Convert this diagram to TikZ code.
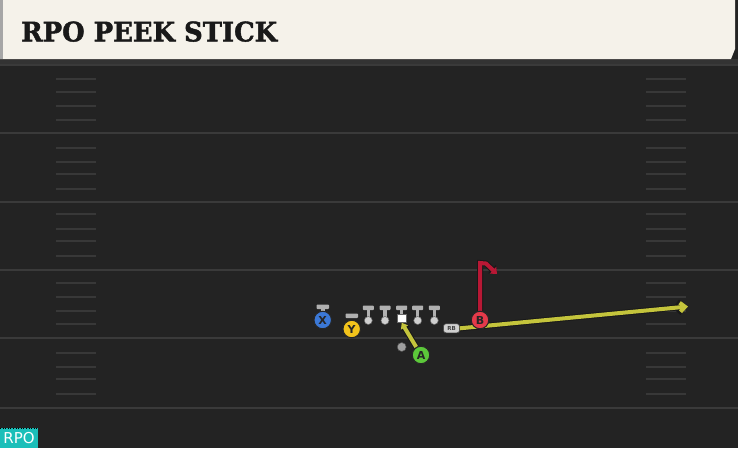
\documentclass[tikz,border=0pt]{standalone}
\usepackage{fontspec}
\usetikzlibrary{arrows.meta}
\newfontfamily\titlefont[BoldFeatures={FakeBold=1.6}]{DejaVu Serif}
\newfontfamily\labfont{DejaVu Sans}
\definecolor{bgc}{HTML}{232323}
\definecolor{cream}{HTML}{F5F2EA}
\definecolor{fline}{HTML}{3A3A3A}
\definecolor{hashc}{HTML}{383838}
\definecolor{xblue}{HTML}{3B78D6}
\definecolor{yyel}{HTML}{F2C31B}
\definecolor{agreen}{HTML}{5CC83A}
\definecolor{bred}{HTML}{E53A4A}
\definecolor{olive}{HTML}{C4C43C}
\definecolor{crim}{HTML}{B81835}
\definecolor{lgray}{HTML}{CFCFCF}
\definecolor{teal}{HTML}{1BBFB9}
\tikzset{
  player/.style={circle,draw=black!85,line width=1pt,minimum size=17.5pt,inner sep=0pt,
    font=\labfont\bfseries\fontsize{11}{11}\selectfont,text=black!85},
  fieldline/.style={draw=fline,line width=1.8pt},
  hash/.style={draw=hashc,line width=1.4pt},
  stance/.style={draw=none,fill=lgray!85!black,rounded corners=0.8pt},
  lineman/.style={circle,fill=lgray,draw=black!60,line width=0.5pt,minimum size=8pt,inner sep=0pt},
  routeout/.style={draw=black!90,line width=6pt},
  route/.style={line width=4pt}
}
\begin{document}
\begin{tikzpicture}[x=1pt,y=-1pt]
\useasboundingbox (0,0) rectangle (738,448);
\fill[bgc] (0,0) rectangle (738,448);
% header
\fill[black!80] (0,59) rectangle (738,65);
\fill[cream] (0,0) -- (735,0) -- (735,49) -- (731,59) -- (0,59) -- cycle;
\fill[gray!70] (0,0) rectangle (3,59);
\node[anchor=south west,inner sep=0pt,text=black!90] (title) at (21,42)
  {\resizebox{256pt}{20pt}{\titlefont\bfseries RPO PEEK STICK}};
% field lines
\foreach \y in {65,133,202,270,338,408}{
  \draw[fieldline] (0,\y) -- (738,\y);
}
% hash marks
\foreach \y in {79,92,106,120,148,162,174,189,214,229,241,256,283,297,311,324,353,367,379,394}{
  \draw[hash] (56,\y) -- (96,\y);
  \draw[hash] (646,\y) -- (686,\y);
}
% linemen
\foreach \x/\n in {368.3/l1,385/l2,417.7/l4,434.3/l5}{
  \fill[stance] (\x-5.5,305.5) rectangle (\x+5.5,310);
  \fill[lgray!85!black] (\x-1.7,309) rectangle (\x+1.7,319);
  \node[lineman] (\n) at (\x,320.5) {};
}
\fill[stance] (401.7-5.5,305.5) rectangle (401.7+5.5,310);
\fill[lgray!85!black] (401.7-1.7,309) rectangle (401.7+1.7,315);
\node[draw=black!60,line width=0.5pt,fill=white,minimum size=8.5pt,inner sep=0pt] (ctr) at (401.7,318.3) {};
% QB dot
\node[circle,fill=gray!75,draw=black!70,line width=0.5pt,minimum size=9pt,inner sep=0pt] (qb) at (401.7,347) {};
% receivers stance bars
\fill[stance] (316.5,304.5) rectangle (329,309);
\fill[lgray!85!black] (321,308) rectangle (324.5,312);
\fill[stance] (345.5,313.5) rectangle (358,318);
% RB
\node[draw=black!70,line width=0.6pt,fill=lgray,rounded corners=2.5pt,minimum width=16pt,minimum height=9pt,inner sep=0pt,
  font=\labfont\bfseries\fontsize{5.5}{5.5}\selectfont,text=black!75] (rb) at (451.5,328.3) {RB};
\coordinate (sweepend) at (688,306.5);
\coordinate (flagtop) at (480,263);
\coordinate (flagmid) at (486,263.5);
\coordinate (flagend) at (497,274);
% olive sweep route
\draw[routeout,-{Straight Barb[length=6pt,width=11pt]}] (rb.east) -- (sweepend);
\draw[route,olive,-{Straight Barb[length=5pt,width=9pt]}] (rb.east) -- (sweepend);
% players
\node[player,fill=xblue] (X) at (322.7,320) {X};
\node[player,fill=yyel] (Y) at (351.7,329) {Y};
\node[player,fill=agreen] (A) at (421,355) {A};
% A route
\draw[routeout,-{Triangle[length=7pt,width=10pt]}] (A) -- (ctr.south);
\draw[route,olive,-{Triangle[length=5.5pt,width=8pt]}] (A) -- (ctr.south);
\node[player,fill=agreen] at (421,355) {A};
% B route
\draw[routeout,line width=6pt,-{Triangle[length=7pt,width=11pt]}] (480,320) -- (flagtop) -- (flagmid) -- (flagend);
\draw[route,crim,line width=4pt,-{Triangle[length=5.5pt,width=9pt]}] (480,320) -- (flagtop) -- (flagmid) -- (flagend);
\node[player,fill=bred] (B) at (480,320) {B};
% RPO tag
\fill[teal] (0,428) rectangle (38,448);
\draw[black,dotted,line width=0.6pt] (0,428) -- (38,428);
\node[text=white,font=\labfont\fontsize{15}{15}\selectfont,inner sep=0pt] (rpo) at (19,438.5) {RPO};
\end{tikzpicture}
\end{document}
